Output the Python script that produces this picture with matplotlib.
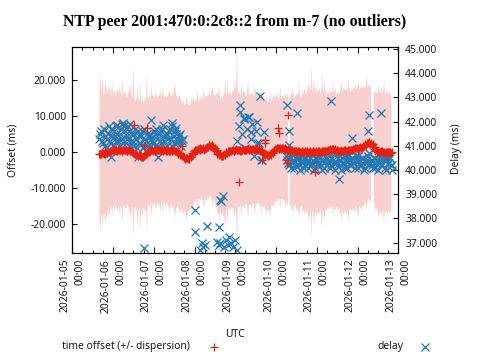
import numpy as np
import matplotlib
matplotlib.use("Agg")
import matplotlib.pyplot as plt
import matplotlib.dates as mdates
from matplotlib.ticker import MultipleLocator, FormatStrFormatter
from matplotlib.lines import Line2D

plt.rcParams["font.family"] = ["Noto Sans", "DejaVu Sans"]
plt.rcParams["font.size"] = 7.4

title = "NTP peer 2001:470:0:2c8::2 from m-7 (no outliers)"
start = np.datetime64("2026-01-05T00:00")

# samples on the hour, hours since 2026-01-05 00:00 UTC
hours = list(range(16, 189))
offset_ms = [
    -0.4, -0.5, -0.3, -0.4, -0.2, 0.0, 0.2,
    0.4, 0.5, 0.6, 0.4, 0.7, 0.5, 0.3, 0.6, 0.5, 0.4, 0.6, 0.3, 0.1,
    -0.2, -0.5, -0.7, -0.9, -1.1, -1.3, -1.0, -0.7, -0.3,
    0.1, 0.4, 0.5, 0.6, 0.3, 0.5, 0.7, 0.4, 0.6, 0.5, 0.3, 0.6, 0.4, 0.5,
    0.4, 0.6, 0.3, 0.2, -0.2, -0.6,
    -1.0, -1.4, -1.7, -1.9, -1.8, -1.3, -0.6,
    0.0, 0.5, 0.8, 0.6, 0.9, 1.1, 0.8, 1.0, 1.3,
    1.7, 2.0, 1.8, 1.2,
    0.5, -0.2, -0.6, -1.0, -1.1, -0.8, -0.3, 0.1, 0.3, 0.5,
    0.4, 0.6, 0.5, 0.7, 0.4, 0.6, 0.5, 0.7, 0.8, 0.6, 0.7,
    0.8, 0.6, 0.9, 0.7, 0.8, 0.5, 0.2, -0.2,
    -0.6, -0.9, -0.8, -0.7, -0.3, 0.3,
    0.8, 1.0, 1.1, 0.9, 1.2, 1.0, 0.8,
    0.6, 0.4, 0.5, 0.3, 0.4, 0.2, 0.3, 0.1, 0.2,
    0.0, 0.2, -0.1, 0.1, 0.3, 0.0, 0.2, -0.1, 0.1, 0.2, 0.0, 0.3, 0.1, 0.4, 0.2, 0.5,
    0.7, 0.9, 0.6, 0.8, 0.5,
    0.3, 0.4, 0.2, 0.5, 0.3, 0.4, 0.6, 0.5, 0.7,
    0.9, 1.1, 0.8, 1.2, 1.0, 1.3, 1.6,
    2.0, 2.4, 2.6, 2.5, 2.2, 1.4,
    0.5, 0.1, -0.1, 0.2, 0.0, -0.2, 0.1, 0.0, -0.1, 0.0,
]
dispersion_ms = [
    19.0, 17.0, 21.0, 16.5, 18.0, 16.0, 17.0,
    16.0, 15.5, 17.0, 16.0, 15.5, 18.0, 16.0, 15.5, 16.5, 15.0, 16.0, 17.5, 15.5,
    24.0, 14.5, 16.0, 15.0, 21.0, 15.0, 14.5, 16.0, 22.0,
    15.0, 14.5, 15.5, 15.0, 16.0, 14.5, 15.0, 17.0, 15.0, 14.5, 15.5, 15.0, 16.0, 15.0,
    15.5, 17.0, 16.0, 15.0, 16.5, 15.5,
    15.0, 14.5, 16.0, 15.0, 14.5, 15.5, 15.0,
    14.0, 13.5, 14.5, 14.0, 13.5, 14.5, 14.0, 15.0, 14.5,
    14.0, 15.0, 14.5, 15.0,
    16.0, 17.0, 15.5, 16.5, 17.0, 21.0, 16.0, 15.5, 16.5, 16.0,
    16.0, 17.0, 28.0, 16.0, 15.0, 15.5, 16.5, 15.0, 16.0, 15.5, 15.0,
    15.5, 15.0, 16.0, 15.0, 14.5, 15.5, 15.0, 14.5,
    15.5, 15.0, 15.5, 14.5, 15.0, 15.0,
    14.5, 14.0, 14.5, 14.0, 14.5, 14.0, 14.5,
    15.0, 15.5, 15.5, 16.0, 15.0, 16.5, 15.5, 16.0, 15.0,
    16.0, 17.0, 16.5, 18.0, 17.0, 24.0, 17.0, 16.5, 18.0, 17.0, 16.0, 22.0, 16.5, 17.0, 16.0, 15.5,
    16.0, 15.5, 16.0, 17.0, 15.5,
    16.0, 17.5, 16.5, 18.0, 17.0, 16.5, 17.0, 16.0, 16.5,
    17.0, 16.5, 17.5, 16.0, 17.0, 16.5, 16.0,
    16.0, 15.5, 16.5, 15.5, np.nan, 15.5,
    16.0, 17.0, 16.5, 18.0, 16.0, 17.0, 16.5, 16.0, 17.0, 15.5,
]

# samples on the half hour
half_hours = list(np.arange(16.5, 188.0, 1.0))
offset_half_ms = [
    -0.6, -0.2, -0.5, -0.1, -0.3, 0.1,
    0.3, 0.7, 0.4, 0.8, 0.4, 0.6, 0.7, 0.3, 0.7, 0.6, 0.4, 0.5, 0.2,
    0.0, -0.4, -0.6, -1.0, -0.8, -1.2, -1.4, -0.8, -0.5,
    0.0, 0.3, 0.6, 0.4, 0.7, 0.4, 0.6, 0.5, 0.8, 0.3, 0.5, 0.4, 0.7, 0.3,
    0.6, 0.5, 0.4, 0.0, -0.4, -0.8,
    -1.2, -1.6, -1.9, -1.7, -1.5, -1.0, -0.3,
    0.3, 0.7, 0.6, 0.8, 1.0, 0.9, 0.7, 1.2, 1.5,
    1.9, 1.8, 1.5, 0.9,
    0.2, -0.4, -0.9, -1.2, -0.9, -0.6, -0.1, 0.2, 0.4, 0.3,
    0.7, 0.4, 0.8, 0.5, 0.7, 0.4, 0.8, 0.6, 0.5, 0.8, 0.9,
    0.6, 0.9, 0.7, 1.0, 0.6, 0.4, 0.0, -0.4,
    -0.8, -0.7, -1.0, -0.5, 0.0, 0.6,
    0.9, 1.2, 0.8, 1.1, 1.0, 0.9, 0.7,
    0.5, 0.6, 0.3, 0.5, 0.2, 0.4, 0.1, 0.3, 0.0,
    0.2, 0.1, 0.0, 0.3, -0.1, 0.1, 0.3, 0.0, 0.2, 0.1, 0.3, 0.0, 0.2, 0.3, 0.4, 0.6,
    0.8, 0.7, 0.9, 0.6, 0.4,
    0.4, 0.2, 0.4, 0.3, 0.6, 0.2, 0.5, 0.7, 0.6,
    0.8, 1.0, 1.2, 0.9, 1.3, 1.1, 1.8,
    2.2, 2.5, 2.8, 2.3, 1.9, 0.9,
    0.2, 0.3, 0.0, -0.1, 0.2, 0.1, -0.2, 0.1, 0.1, -0.2,
]
dispersion_half_ms = [
    22.0, 18.0, 16.5, 20.0, 17.0, 18.5,
    15.5, 19.0, 16.0, 15.0, 17.5, 16.0, 15.5, 20.0, 15.5, 16.0, 15.0, 16.5, 19.0,
    15.5, 16.0, 15.0, 19.5, 15.5, 14.5, 17.0, 15.0, 15.5,
    14.5, 15.5, 18.5, 15.0, 14.5, 16.0, 15.0, 15.5, 14.5, 18.0, 15.0, 14.5, 15.5, 17.0,
    15.0, 16.0, 19.0, 15.5, 15.0, 16.0,
    14.5, 16.0, 15.0, 17.5, 15.0, 14.5, 15.5,
    14.5, 14.0, 16.5, 13.5, 14.5, 14.0, 17.0, 14.5, 14.0,
    14.5, 14.0, 17.0, 14.5,
    15.5, 16.5, 19.0, 16.0, 15.5, 17.0, 16.5, 20.0, 16.0, 15.5,
    16.5, 19.0, 17.0, 15.5, 16.0, 18.5, 15.5, 16.0, 15.0, 19.0, 15.5,
    16.0, 15.0, 18.0, 15.5, 15.0, 16.0, 17.5, 15.0,
    15.0, 16.5, 15.0, 18.0, 14.5, 15.0,
    14.5, 15.5, 14.0, 17.0, 14.0, 14.5, 16.0,
    15.5, np.nan, 15.0, 17.5, 15.5, 15.0, 16.0, 19.0, 15.5,
    16.5, 17.5, 16.0, 17.0, 19.5, 17.5, 16.5, 20.0, 17.0, 16.5, 17.5, 16.5, 17.0, 19.0, 16.5, 16.0,
    17.0, 16.0, 19.0, 16.5, 16.0,
    16.5, 16.0, 19.5, 17.0, 16.5, 17.5, 20.0, 16.5, 17.0,
    16.5, 18.0, 16.5, 19.5, 16.5, 17.0, 16.5,
    16.5, 19.0, 15.5, 16.0, np.nan, 16.0,
    16.5, 16.0, 18.5, 16.5, 17.0, 19.5, 16.0, 17.5, 16.5, 16.0,
]

# isolated offset samples
extra_offset_hours = [36.3, 44.2, 42.2, 64.6, 98.4, 111.5, 113.5, 113.5,
                      121.3, 121.7, 127.2, 126.2, 126.2, 143.0]
extra_offset_ms = [7.5, 6.75, 1.7, 1.7, -8.25, -2.2, 3.3, 2.5,
                   6.6, 5.2, 10.3, -2.2, -3.1, -5.5]

# delay samples (hours since start, ms)
delay_hours = (
    list(range(16, 66))
    + list(np.arange(16.5, 65.0, 1.0))
    + [22.5, 38.5, 46.5, 50.3, 58.5, 61.0, 30.0, 34.0, 26.5, 53.5]
    + list(range(97, 112))
    + [98.5, 101.0, 103.5, 105.5, 110.5, 113.0, 111.5, 108.5,
       126.5, 127.5, 127.8, 132.5]
    + list(range(126, 189))
    + list(np.arange(126.5, 188.0, 1.0))
    + [152.5, 157.0, 164.9, 174.0, 175.0, 182.0, 188.5]
    + [42.0, 72.4, 72.4, 77.2, 76.3, 78.3, 79.3, 85.2, 86.2, 87.2, 86.2,
       87.2, 88.7, 87.8, 90.6, 91.5, 92.5, 93.5, 94.4, 89.2, 97.0, 75.5, 96.0]
)
delay_ms = (
    [41.3, 41.6, 41.1, 41.4, 40.9, 41.5, 41.2, 41.7, 41.0, 41.4,
     41.8, 41.2, 41.5, 41.9, 41.1, 41.6, 41.3, 41.8, 41.0, 41.5,
     41.2, 41.7, 40.9, 41.4, 41.1, 41.6, 41.0, 41.3, 41.5, 40.9,
     41.4, 41.2, 41.6, 41.0, 41.3, 41.5, 41.1, 41.7, 41.2, 41.4,
     41.0, 41.6, 41.3, 41.8, 41.1, 41.5, 41.2, 41.4, 41.0, 41.3]
    + [41.5, 41.2, 41.7, 41.0, 41.3, 41.8, 41.1, 41.4, 41.6, 41.2,
       41.5, 41.0, 41.7, 41.3, 41.8, 41.1, 41.4, 41.6, 41.2, 41.0,
       41.5, 41.3, 41.6, 41.1, 41.4, 40.9, 41.7, 41.2, 41.0, 41.5,
       41.3, 41.1, 41.5, 41.7, 41.0, 41.2, 41.6, 41.4, 40.9, 41.5,
       41.3, 41.7, 41.0, 41.4, 41.6, 41.1, 41.3, 41.5, 41.2]
    + [40.55, 40.55, 42.07, 40.55, 41.93, 41.72, 41.95, 41.9, 41.85, 41.85]
    + [41.2, 41.8, 42.4, 41.5, 42.1, 40.9, 41.7, 42.2, 41.3, 41.9,
       40.6, 41.6, 42.0, 41.1, 40.4]
    + [42.69, 42.15, 42.2, 41.57, 43.06, 41.58, 40.41, 41.1,
       42.7, 41.62, 41.03, 42.34]
    + [40.6, 40.3, 40.5, 40.1, 40.4, 40.7, 40.2, 40.5, 40.0, 40.4,
       40.6, 40.2, 40.4, 40.1, 40.5, 40.3, 40.7, 40.1, 40.4, 40.2,
       40.5, 40.0, 40.3, 40.6, 40.2, 40.4, 40.1, 40.5, 40.3, 40.7,
       40.2, 40.4, 40.0, 40.5, 40.3, 40.6, 40.1, 40.4, 40.2, 40.5,
       40.3, 40.6, 40.1, 40.4, 40.2, 40.5, 40.0, 40.3, 40.6, 40.2,
       40.4, 40.1, 40.5, 40.3, 40.0, 40.4, 40.2, 40.6, 40.1, 40.4,
       40.3, 40.5, 40.2]
    + [40.4, 40.2, 40.6, 40.3, 40.1, 40.5, 40.4, 40.2, 40.6, 40.3,
       40.1, 40.5, 40.3, 40.7, 40.2, 40.4, 40.0, 40.5, 40.3, 40.6,
       40.2, 40.4, 40.1, 40.5, 40.3, 40.6, 40.2, 40.4, 40.0, 40.3,
       40.5, 40.2, 40.7, 40.3, 40.1, 40.4, 40.6, 40.2, 40.5, 40.3,
       40.1, 40.4, 40.6, 40.2, 40.5, 40.3, 40.1, 40.4, 40.7, 40.3,
       40.2, 40.5, 40.1, 40.4, 40.3, 40.6, 40.2, 40.4, 40.0, 40.5,
       40.3, 40.2]
    + [42.86, 39.62, 41.31, 41.61, 42.27, 42.34, 40.0]
    + [36.76, 38.35, 37.45, 36.83, 37.0, 36.9, 37.69, 37.04, 36.9, 37.0, 37.63,
       38.76, 38.93, 38.7, 37.1, 36.9, 37.24, 37.0, 36.83, 36.83, 36.7, 36.7, 37.1]
)


def to_time(h):
    minutes = np.round(np.asarray(h, dtype=float) * 60).astype(np.int64)
    return start + minutes.astype("timedelta64[m]")


all_h = np.concatenate([hours, half_hours])
order = np.argsort(all_h)
t = to_time(all_h[order])
off = np.concatenate([offset_ms, offset_half_ms])[order]
disp = np.concatenate([dispersion_ms, dispersion_half_ms])[order]

RED = "#e8200f"
BLUE = "#1f77b4"
PINK = "#f9d0d0"
TXT = "#1a1a1a"
MS = 5.6
MEW = 0.9

fig = plt.figure(figsize=(4.8, 3.6), dpi=100)
L, R, B, T = 72.3 / 480, 398.3 / 480, 1 - 253.3 / 360, 1 - 47.3 / 360
ax = fig.add_axes([L, B, R - L, T - B])
ax2 = ax.twinx()

XMIN, XMAX = np.datetime64("2026-01-05T00:00"), np.datetime64("2026-01-13T00:00")
ax.set_xlim(XMIN, XMAX)
ax.set_ylim(-28.1, 29.1)
ax2.set_ylim(36.56, 45.07)

ax.fill_between(t, off - disp, off + disp, color=PINK, lw=0, zorder=1)
ax.plot(to_time(delay_hours), delay_ms, "x", color=BLUE, ms=MS, mew=MEW,
        transform=ax2.transData, zorder=2)
ax.plot(t, off, "+", color=RED, ms=MS, mew=MEW, zorder=3)
ax.plot(to_time(extra_offset_hours), extra_offset_ms, "+", color=RED, ms=MS,
        mew=MEW, zorder=3)
ax.set_xlim(XMIN, XMAX)
ax.set_ylim(-28.1, 29.1)
ax2.set_ylim(36.56, 45.07)

ax.xaxis.set_major_locator(mdates.DayLocator())
ax.xaxis.set_minor_locator(mdates.HourLocator(byhour=[6, 12, 18]))
ax.xaxis.set_major_formatter(mdates.DateFormatter("%Y-%m-%d\n%H:%M"))
ax.yaxis.set_major_locator(MultipleLocator(10))
ax.yaxis.set_major_formatter(FormatStrFormatter("%.3f"))
ax2.yaxis.set_major_locator(MultipleLocator(1))
ax2.yaxis.set_major_formatter(FormatStrFormatter("%.3f"))

ax.tick_params(axis="x", which="major", direction="in", top=True, length=4,
               width=0.8, pad=4, colors=TXT)
ax.tick_params(axis="x", which="minor", direction="in", top=True, length=2.5,
               width=0.8)
ax.tick_params(axis="y", which="major", direction="in", length=3.5, width=0.8,
               pad=4.5, right=False, colors=TXT)
ax2.tick_params(axis="y", which="major", direction="in", length=3.5, width=0.8,
                pad=5, colors=TXT)

for lbl in ax.get_xticklabels():
    lbl.set_rotation(90)
    lbl.set_horizontalalignment("center")
    lbl.set_verticalalignment("top")
    lbl.set_multialignment("right")
    lbl.set_linespacing(1.5)

for a in (ax, ax2):
    for s in a.spines.values():
        s.set_linewidth(0.8)
        s.set_color("black")

fig.text(234.5 / 480, 1 - 22 / 360, title, ha="center", va="center",
         family=["Liberation Serif", "DejaVu Serif"], weight="bold", fontsize=11.4,
         color="black")
fig.text(13 / 480, 1 - 150 / 360, "Offset (ms)", rotation=90, ha="center",
         va="center", color=TXT)
fig.text(456 / 480, 1 - 149 / 360, "Delay (ms)", rotation=90, ha="center",
         va="center", color=TXT)
fig.text(235 / 480, 1 - 334.5 / 360, "UTC", ha="center", va="center", color=TXT)
fig.text(62 / 480, 1 - 346.5 / 360, "time offset (+/- dispersion)", ha="left",
         va="center", color=TXT)
fig.text(403 / 480, 1 - 346.5 / 360, "delay", ha="right", va="center", color=TXT)
fig.add_artist(Line2D([214 / 480], [1 - 346.5 / 360], marker="+", color=RED,
                      ms=MS, mew=MEW, transform=fig.transFigure))
fig.add_artist(Line2D([425 / 480], [1 - 346.5 / 360], marker="x", color=BLUE,
                      ms=MS, mew=MEW, transform=fig.transFigure))

fig.savefig("out.png", dpi=100)
